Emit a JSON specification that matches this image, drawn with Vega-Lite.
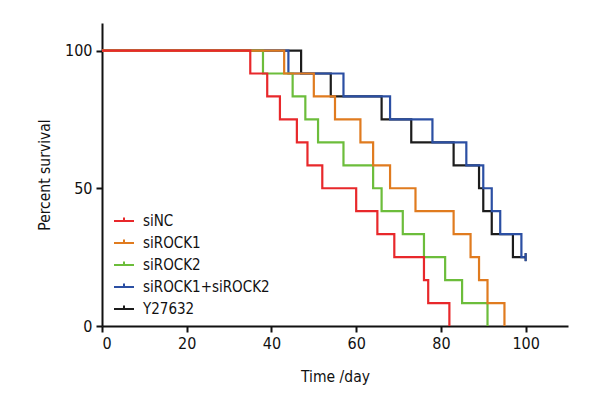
{
  "$schema": "https://vega.github.io/schema/vega-lite/v6.json",
  "width": 466,
  "height": 303,
  "autosize": {"type": "none"},
  "padding": {"left": 102, "top": 23, "right": 32, "bottom": 74},
  "config": {
    "view": {"stroke": null},
    "font": "DejaVu Sans Condensed, sans-serif",
    "axis": {
      "grid": false,
      "domainColor": "#111111",
      "domainWidth": 2,
      "tickColor": "#111111",
      "tickWidth": 2,
      "tickSize": 6,
      "labelColor": "#111111",
      "labelFontSize": 16,
      "labelFont": "DejaVu Sans Condensed, sans-serif",
      "titleFont": "DejaVu Sans Condensed, sans-serif",
      "titleFontSize": 15.5,
      "titleFontWeight": "normal",
      "titleColor": "#111111"
    },
    "legend": {
      "labelFont": "DejaVu Sans Condensed, sans-serif",
      "labelFontSize": 15,
      "labelColor": "#111111"
    }
  },
  "datasets": {
    "curves": [
      {"g": "Y27632", "t": 0, "s": 100},
      {"g": "Y27632", "t": 47, "s": 91.67},
      {"g": "Y27632", "t": 54, "s": 83.33},
      {"g": "Y27632", "t": 66, "s": 75},
      {"g": "Y27632", "t": 73, "s": 66.67},
      {"g": "Y27632", "t": 83, "s": 58.33},
      {"g": "Y27632", "t": 89, "s": 50},
      {"g": "Y27632", "t": 90, "s": 41.67},
      {"g": "Y27632", "t": 92, "s": 33.33},
      {"g": "Y27632", "t": 97, "s": 25},
      {"g": "Y27632", "t": 100, "s": 25},
      {"g": "siROCK1+siROCK2", "t": 0, "s": 100},
      {"g": "siROCK1+siROCK2", "t": 44, "s": 91.67},
      {"g": "siROCK1+siROCK2", "t": 57, "s": 83.33},
      {"g": "siROCK1+siROCK2", "t": 68, "s": 75},
      {"g": "siROCK1+siROCK2", "t": 78, "s": 66.67},
      {"g": "siROCK1+siROCK2", "t": 86, "s": 58.33},
      {"g": "siROCK1+siROCK2", "t": 90, "s": 50},
      {"g": "siROCK1+siROCK2", "t": 92, "s": 41.67},
      {"g": "siROCK1+siROCK2", "t": 94, "s": 33.33},
      {"g": "siROCK1+siROCK2", "t": 99, "s": 25},
      {"g": "siROCK1+siROCK2", "t": 100, "s": 25},
      {"g": "siROCK2", "t": 0, "s": 100},
      {"g": "siROCK2", "t": 38, "s": 91.67},
      {"g": "siROCK2", "t": 45, "s": 83.33},
      {"g": "siROCK2", "t": 48, "s": 75},
      {"g": "siROCK2", "t": 51, "s": 66.67},
      {"g": "siROCK2", "t": 57, "s": 58.33},
      {"g": "siROCK2", "t": 64, "s": 50},
      {"g": "siROCK2", "t": 66, "s": 41.67},
      {"g": "siROCK2", "t": 71, "s": 33.33},
      {"g": "siROCK2", "t": 76, "s": 25},
      {"g": "siROCK2", "t": 81, "s": 16.67},
      {"g": "siROCK2", "t": 85, "s": 8.33},
      {"g": "siROCK2", "t": 91, "s": 0},
      {"g": "siROCK1", "t": 0, "s": 100},
      {"g": "siROCK1", "t": 43, "s": 91.67},
      {"g": "siROCK1", "t": 50, "s": 83.33},
      {"g": "siROCK1", "t": 55, "s": 75},
      {"g": "siROCK1", "t": 61, "s": 66.67},
      {"g": "siROCK1", "t": 64, "s": 58.33},
      {"g": "siROCK1", "t": 68, "s": 50},
      {"g": "siROCK1", "t": 74, "s": 41.67},
      {"g": "siROCK1", "t": 83, "s": 33.33},
      {"g": "siROCK1", "t": 87, "s": 25},
      {"g": "siROCK1", "t": 89, "s": 16.67},
      {"g": "siROCK1", "t": 91, "s": 8.33},
      {"g": "siROCK1", "t": 95, "s": 0},
      {"g": "siNC", "t": 0, "s": 100},
      {"g": "siNC", "t": 35, "s": 91.67},
      {"g": "siNC", "t": 39, "s": 83.33},
      {"g": "siNC", "t": 42, "s": 75},
      {"g": "siNC", "t": 46, "s": 66.67},
      {"g": "siNC", "t": 48.5, "s": 58.33},
      {"g": "siNC", "t": 52, "s": 50},
      {"g": "siNC", "t": 60, "s": 41.67},
      {"g": "siNC", "t": 65, "s": 33.33},
      {"g": "siNC", "t": 69, "s": 25},
      {"g": "siNC", "t": 76, "s": 16.67},
      {"g": "siNC", "t": 77, "s": 8.33},
      {"g": "siNC", "t": 82, "s": 0}
    ],
    "censor": [
      {"g": "Y27632", "t": 100, "s": 25},
      {"g": "siROCK1+siROCK2", "t": 100, "s": 25}
    ]
  },
  "layer": [
    {
      "data": {"name": "curves"},
      "mark": {"type": "line", "interpolate": "step-after", "strokeWidth": 2.2},
      "encoding": {
        "x": {
          "field": "t", "type": "quantitative",
          "scale": {"domain": [0, 110], "nice": false},
          "axis": {"values": [0, 20, 40, 60, 80, 100], "title": "Time /day", "labelPadding": 3, "titlePadding": 18}
        },
        "y": {
          "field": "s", "type": "quantitative",
          "scale": {"domain": [0, 110], "nice": false},
          "axis": {"values": [0, 50, 100], "title": "Percent survival", "labelPadding": 4, "titlePadding": 12}
        },
        "color": {
          "field": "g", "type": "nominal",
          "scale": {
            "domain": ["siNC", "siROCK1", "siROCK2", "siROCK1+siROCK2", "Y27632"],
            "range": ["#e8282b", "#e07b1f", "#6cbd3b", "#2b4fa3", "#1c1c1c"]
          },
          "legend": {
            "orient": "none",
            "legendX": 11,
            "legendY": 187,
            "title": null,
            "symbolType": "M-1,0H1M0,0V-0.35",
            "symbolSize": 400,
            "symbolStrokeWidth": 2,
            "rowPadding": 3,
            "labelOffset": 8
          }
        }
      }
    },
    {
      "data": {"name": "censor"},
      "mark": {"type": "point", "shape": "M0,-1V1", "filled": false, "size": 64, "strokeWidth": 2, "opacity": 1},
      "encoding": {
        "x": {"field": "t", "type": "quantitative"},
        "y": {"field": "s", "type": "quantitative"},
        "color": {"field": "g", "type": "nominal", "legend": null}
      }
    }
  ]
}
